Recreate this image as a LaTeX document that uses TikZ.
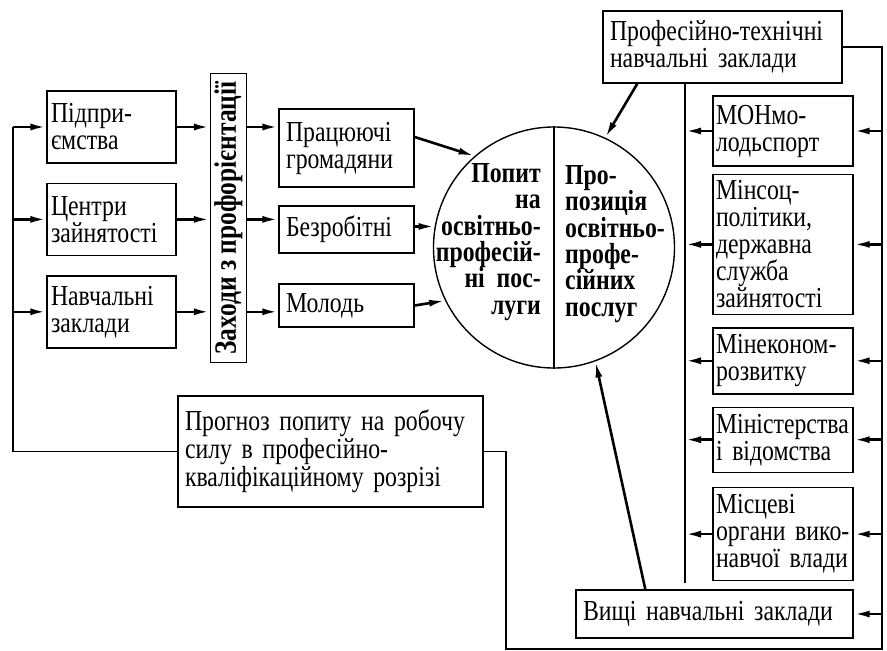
\documentclass[tikz,border=0pt]{standalone}
\usepackage{fontspec}
\setmainfont{Liberation Serif}[FakeStretch=0.82]
\usetikzlibrary{shapes,arrows.meta,positioning,calc}
\tikzset{
block/.style = {draw, fill=white, rectangle, align=left, line width=1.4pt, inner xsep=7pt, inner ysep=1pt, font=\fontsize{29}{27}\selectfont},
lblock/.style = {block, inner xsep=4pt, text width=121pt, minimum height=72pt},
rblock/.style = {block, inner xsep=3pt, text width=134pt},
ring/.style = {draw, circle, line width=1.4pt, minimum size=241pt, inner sep=0pt},
ringtext/.style = {font=\bfseries\fontsize{29}{26.4}\selectfont, inner sep=0pt},
line/.style = {line width=1.4pt},
arr/.style = {-{Latex[length=16pt,width=7pt]}, line width=2.6pt}
}
\begin{document}
\begin{tikzpicture}[x=1pt, y=-1pt, node distance=19pt]
    \useasboundingbox (0,0) rectangle (887,651);
    % left column
    \node [lblock] (pidpr) at (111.5,127) {Підпри-\\ємства};
    \node [lblock, below=of pidpr] (centry) {Центри\\зайнятості};
    \node [lblock, below=of centry] (navch) {Навчальні\\заклади};
    \node [block, inner sep=0pt, minimum width=36pt, minimum height=289pt] (zakhody) at (228.5,218)
      {\rotatebox{90}{\bfseries\fontsize{31}{26}\selectfont Заходи з профорієнтації}};
    % groups of demand
    \node [block, text width=121pt, minimum height=78pt] (prats) at (346.5,148) {Працюючі\\громадяни};
    \node [block, text width=121pt, minimum height=47pt] (bezrob) at (346.5,229.5) {Безробітні};
    \node [block, text width=121pt, minimum height=43pt] (molod) at (346.5,305.5) {Молодь};
    % market of services
    \node [ring] (market) at (554,247.5) {};
    \draw [line] (market.north) -- (market.south);
    \node [ringtext, align=right, anchor=east] (demand) at (541,242) {Попит\\на\\освітньо-\\професій-\\ні\ \ пос-\\луги};
    \node [ringtext, align=left, anchor=west] (supply) at (565,244) {Про-\\позиція\\освітньо-\\профе-\\сійних\\послуг};
    % suppliers
    \node [block, text width=225pt, minimum height=72pt] (proftech) at (722.5,47) {Професійно-технічні\\навчальні заклади};
    \node [rblock, minimum height=70pt] (mon) at (783,131) {МОНмо-\\лодьспорт};
    \node [rblock, minimum height=140pt, below=7pt of mon] (minsoc) {Мінсоц-\\політики,\\державна\\служба\\зайнятості};
    \node [rblock, minimum height=66pt, below=12pt of minsoc] (minekon) {Мінеконом-\\розвитку};
    \node [rblock, minimum height=65pt, below=12pt of minekon] (ministr) {Міністерства\\і відомства};
    \node [rblock, minimum height=93pt, below=14pt of ministr] (mistsevi) {Місцеві\\органи вико-\\навчої влади};
    \node [block, text width=263pt, minimum height=48pt] (vyshchi) at (714.5,614) {Вищі навчальні заклади};
    \node [block, text width=291pt, minimum height=111pt, font=\fontsize{29}{28}\selectfont] (prognoz) at (330.5,451.5) {Прогноз попиту на робочу\\силу в професійно-\\кваліфікаційному розрізі};
    % bus lines
    \coordinate (lbus) at (13,127);
    \coordinate (ibus) at (685,583);
    \coordinate (obus) at (882,649);
    \coordinate (bbus) at (506,649);
    \draw [line] (prognoz.west) -| (lbus);
    \draw [line] (proftech.east) -| (obus) -- (bbus) |- (prognoz.east);
    \draw [line] (ibus|-proftech.south) -- (ibus);
    % arrows on the left
    \foreach \n/\m in {pidpr/prats, centry/bezrob, navch/molod} {
      \draw [arr] (lbus|-\n) -- (\n.west);
      \draw [arr] (\n.east) -- (\n.east-|zakhody.west);
      \draw [arr] (zakhody.east|-\n) -- (\n-|\m.west);
    }
    \draw [arr] ($(prats.east)+(0,-11)$) -- (market.131);
    \draw [arr] (bezrob.east|-market.170) -- (market.170);
    \draw [arr] (molod.east) -- (market.206);
    % arrows on the right
    \foreach \n in {mon, minsoc, minekon, ministr, mistsevi} {
      \draw [arr] (obus|-\n) -- (\n.east);
      \draw [arr] (\n.west) -- (\n.west-|ibus);
    }
    \draw [arr] (obus|-vyshchi) -- (vyshchi.east);
    \draw [arr] ($(proftech.south west)+(35,0)$) -- (market.65);
    \draw [arr] ($(vyshchi.north west)+(70,0)$) -- (market.290);
\end{tikzpicture}
\end{document}
